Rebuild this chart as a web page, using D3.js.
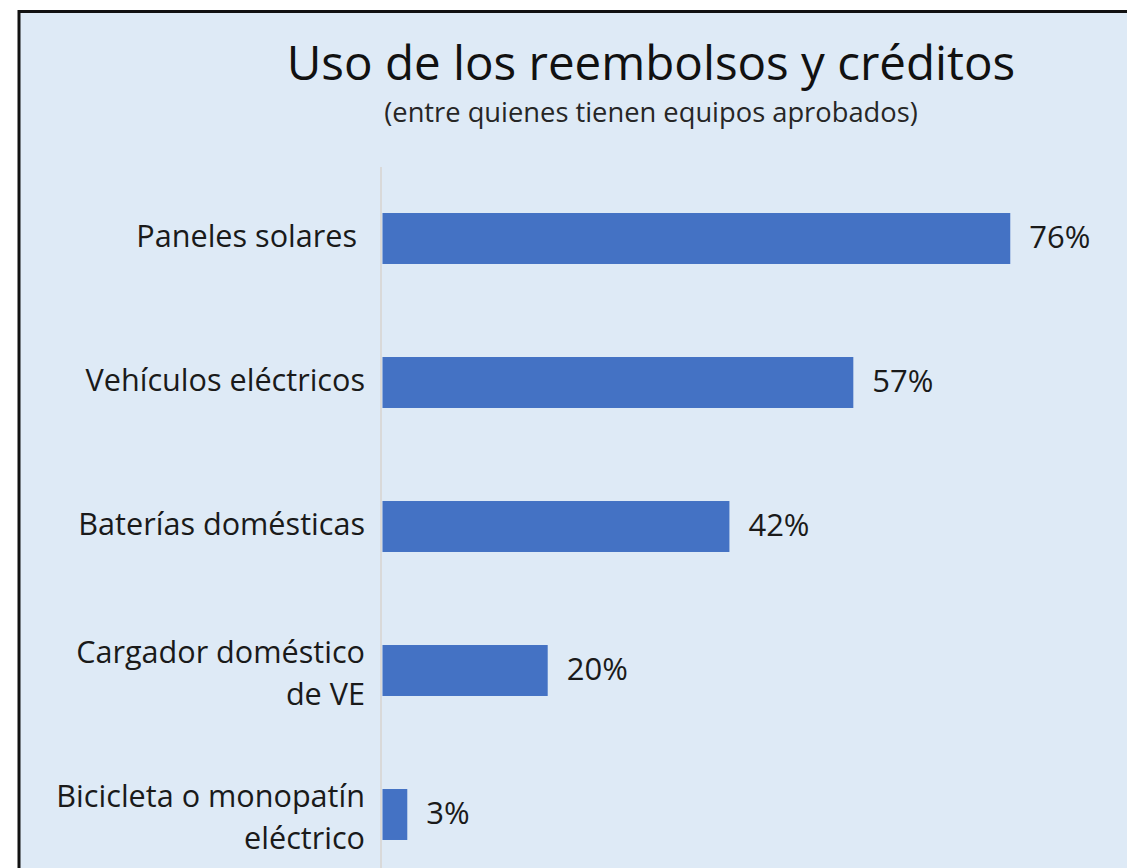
<!DOCTYPE html>
<html><head><meta charset="utf-8">
<script src="https://cdn.jsdelivr.net/npm/d3@7"></script>
<style>html,body{margin:0;padding:0;background:#fff;}svg{display:block;}text{white-space:pre;}</style>
</head><body>
<script>
const categories = [["Paneles solares "],["Vehículos eléctricos"],["Baterías domésticas"],["Cargador doméstico","de VE"],["Bicicleta o monopatín","eléctrico"]];
const values = [0.76,0.57,0.42,0.20,0.03];
const title = "Uso de los reembolsos y créditos";
const subtitle = "(entre quienes tienen equipos aprobados)";

const W=1127,H=868;
const font="'Open Sans', sans-serif";
const svg=d3.select("body").append("svg").attr("width",W).attr("height",H);
svg.append("rect").attr("x",0).attr("y",0).attr("width",W).attr("height",H).attr("fill","#fff");
svg.append("rect").attr("x",19).attr("y",11.5).attr("width",W+20).attr("height",H+20)
  .attr("fill","#DEEAF6").attr("stroke","#111").attr("stroke-width",3);

svg.append("text").attr("x",651).attr("y",80).attr("text-anchor","middle")
  .attr("font-family",font).attr("font-size",47.5).attr("fill","#111").text(title);
svg.append("text").attr("x",651).attr("y",122).attr("text-anchor","middle")
  .attr("font-family",font).attr("font-size",27.3).attr("fill","#262626").text(subtitle);

const ids=categories.map((d,i)=>i);
const y=d3.scaleBand().domain(ids).range([166.5,886.5]).paddingInner(0.646).paddingOuter(0.323);
const x=d3.scaleLinear().domain([0,1]).range([382.5,382.5+826]);

svg.append("line").attr("x1",381).attr("x2",381).attr("y1",167).attr("y2",H)
  .attr("stroke","#D9D9D9").attr("stroke-width",2);

svg.selectAll("rect.bar").data(values).join("rect").attr("class","bar")
  .attr("x",x(0)).attr("y",(d,i)=>y(i)).attr("width",d=>x(d)-x(0)).attr("height",y.bandwidth())
  .attr("fill","#4472C4");

svg.selectAll("text.val").data(values).join("text").attr("class","val")
  .attr("x",d=>x(d)+19).attr("y",(d,i)=>y(i)+y.bandwidth()/2+9)
  .attr("font-family",font).attr("font-size",31).attr("fill","#1a1a1a")
  .text(d=>d3.format(".0%")(d));

const lab=svg.selectAll("text.cat").data(categories).join("text").attr("class","cat")
  .attr("text-anchor","end").attr("font-family",font).attr("font-size",30.6).attr("fill","#1a1a1a");
lab.each(function(d,i){
  const t=d3.select(this);
  const cy=y(i)+y.bandwidth()/2;
  const lh=42, off=8+5*(d.length-1);
  d.forEach((line,j)=>{
    t.append("tspan").attr("x",365).attr("y",cy+off+(j-(d.length-1)/2)*lh).text(line);
  });
});
</script>
</body></html>
